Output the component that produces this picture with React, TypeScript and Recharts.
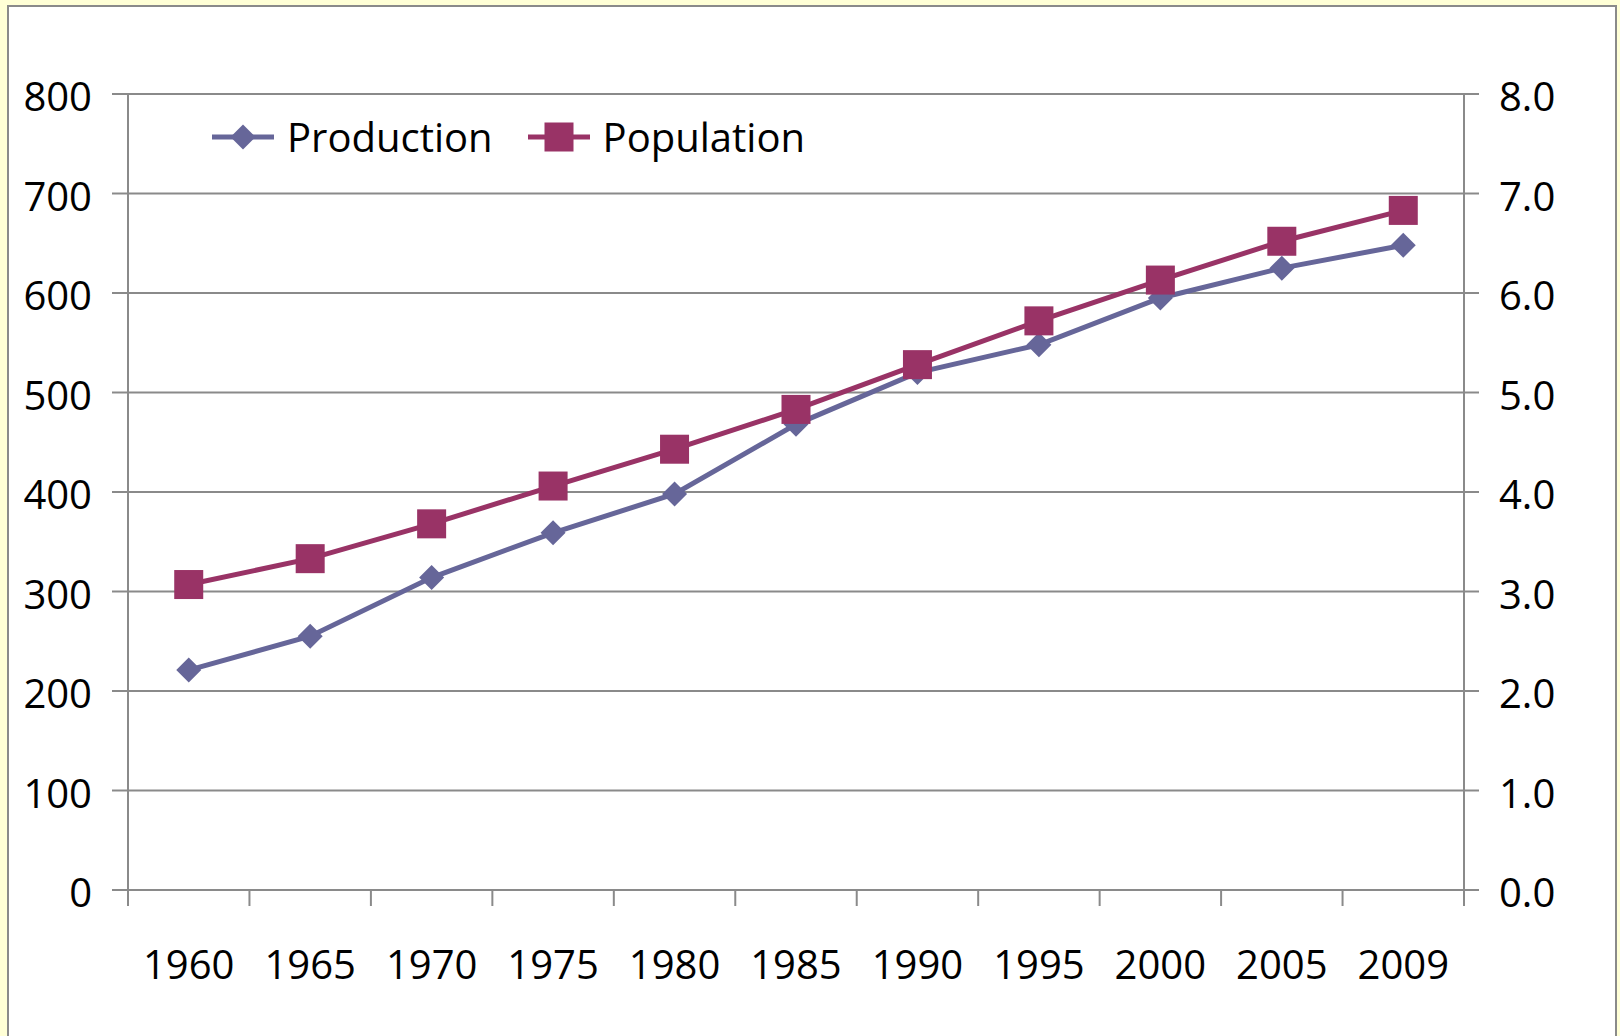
import React from "react";
import {
  LineChart,
  Line,
  XAxis,
  YAxis,
  CartesianGrid,
  Legend,
} from "recharts";

// Production vs population, 1960-2009. Two value axes: production on the
// left (0-800), population in billions on the right (0.0-8.0).

const years = ["1960", "1965", "1970", "1975", "1980", "1985", "1990", "1995", "2000", "2005", "2009"];
const production = [221, 255, 314, 359, 398, 468, 520, 548, 595, 625, 648];
const population = [3.07, 3.33, 3.68, 4.06, 4.43, 4.83, 5.28, 5.72, 6.13, 6.52, 6.83];
const leftTicks = [0, 100, 200, 300, 400, 500, 600, 700, 800];
const rightTicks = [0, 1, 2, 3, 4, 5, 6, 7, 8];

const PROD_COLOR = "#666699";
const POP_COLOR = "#993366";
const AXIS_COLOR = "#8a8a8a";
const FONT = "'Open Sans', sans-serif";

const X_TICK_SIZE = 16;
const X_TICK_MARGIN = 45;

// rows sit in the middle of each category slot, slot edges get tick marks
const data = years.map((year, i) => ({
  pos: i + 0.5,
  year,
  production: production[i],
  population: population[i],
}));
const xTicks = Array.from({ length: years.length * 2 + 1 }, (_, i) => i / 2);

function CategoryTick(props: any) {
  const { x, y, payload } = props;
  const v = payload.value as number;
  if (Number.isInteger(v)) {
    return (
      <line
        x1={x}
        x2={x}
        y1={y - X_TICK_MARGIN - X_TICK_SIZE}
        y2={y - X_TICK_MARGIN}
        stroke={AXIS_COLOR}
        strokeWidth={2}
      />
    );
  }
  return (
    <text
      x={x}
      y={y}
      dy="0.71em"
      textAnchor="middle"
      fill="#000"
      fontSize={40}
      fontFamily={FONT}
    >
      {years[Math.floor(v)]}
    </text>
  );
}

// value labels sit a touch below their gridline, like the original
function ValueTick(props: any) {
  const { x, y, payload, textAnchor, tickFormatter } = props;
  const label = tickFormatter ? tickFormatter(payload.value) : payload.value;
  return (
    <text
      x={x}
      y={y + 3}
      dy="0.355em"
      textAnchor={textAnchor}
      fill="#000"
      fontSize={40}
      fontFamily={FONT}
    >
      {label}
    </text>
  );
}

function Diamond({ cx, cy, size = 12.5, fill }: { cx: number; cy: number; size?: number; fill: string }) {
  return (
    <polygon
      points={`${cx},${cy - size} ${cx + size},${cy} ${cx},${cy + size} ${cx - size},${cy}`}
      fill={fill}
    />
  );
}

function Square({ cx, cy, size = 29, fill }: { cx: number; cy: number; size?: number; fill: string }) {
  return <rect x={cx - size / 2} y={cy - size / 2} width={size} height={size} fill={fill} />;
}

const renderDiamond = (p: any) => (
  <Diamond key={`d-${p.index}`} cx={p.cx} cy={p.cy} fill={PROD_COLOR} />
);
const renderSquare = (p: any) => (
  <Square key={`s-${p.index}`} cx={p.cx} cy={p.cy} fill={POP_COLOR} />
);

function LegendIcon({ kind, color }: { kind: "diamond" | "square"; color: string }) {
  return (
    <svg width={62} height={40} style={{ display: "block" }}>
      <line x1={0} x2={62} y1={20} y2={20} stroke={color} strokeWidth={5} />
      {kind === "diamond" ? (
        <Diamond cx={31} cy={20} fill={color} />
      ) : (
        <Square cx={31} cy={20} fill={color} />
      )}
    </svg>
  );
}

function ChartLegend() {
  const items = [
    { name: "Production", kind: "diamond" as const, color: PROD_COLOR },
    { name: "Population", kind: "square" as const, color: POP_COLOR },
  ];
  return (
    <div style={{ display: "flex", alignItems: "center", fontFamily: FONT }}>
      {items.map((it, i) => (
        <div
          key={it.name}
          style={{ display: "flex", alignItems: "center", marginLeft: i === 0 ? 0 : 35 }}
        >
          <LegendIcon kind={it.kind} color={it.color} />
          <span style={{ marginLeft: 13, fontSize: 40, lineHeight: "40px", color: "#000" }}>
            {it.name}
          </span>
        </div>
      ))}
    </div>
  );
}

export default function App() {
  return (
    <div
      style={{
        position: "absolute",
        left: 0,
        top: 0,
        width: 1620,
        height: 1036,
        background: "#ffffd6",
        overflow: "hidden",
      }}
    >
      <div
        style={{
          position: "absolute",
          left: 7,
          top: 5,
          width: 1610,
          height: 1060,
          boxSizing: "border-box",
          background: "#fff",
          border: `2px solid ${AXIS_COLOR}`,
        }}
      />
      <div style={{ position: "absolute", left: 0, top: 0 }}>
        <LineChart
          width={1620}
          height={1036}
          data={data}
          margin={{ top: 94, right: 56, bottom: 46, left: 28 }}
        >
          <CartesianGrid
            yAxisId="left"
            vertical={false}
            stroke={AXIS_COLOR}
            strokeWidth={2}
          />
          <XAxis
            dataKey="pos"
            type="number"
            domain={[0, years.length]}
            ticks={xTicks}
            interval={0}
            height={100}
            tickSize={X_TICK_SIZE}
            tickMargin={X_TICK_MARGIN}
            tickLine={false}
            axisLine={{ stroke: AXIS_COLOR, strokeWidth: 2 }}
            tick={<CategoryTick />}
          />
          <YAxis
            yAxisId="left"
            domain={[0, 800]}
            ticks={leftTicks}
            interval={0}
            width={100}
            tickSize={16}
            tickMargin={20}
            axisLine={{ stroke: AXIS_COLOR, strokeWidth: 2 }}
            tickLine={{ stroke: AXIS_COLOR, strokeWidth: 2 }}
            tick={<ValueTick />}
          />
          <YAxis
            yAxisId="right"
            orientation="right"
            domain={[0, 8]}
            ticks={rightTicks}
            interval={0}
            width={100}
            tickSize={15}
            tickMargin={20}
            tickFormatter={(v: number) => v.toFixed(1)}
            axisLine={{ stroke: AXIS_COLOR, strokeWidth: 2 }}
            tickLine={{ stroke: AXIS_COLOR, strokeWidth: 2 }}
            tick={<ValueTick />}
          />
          <Legend
            layout="vertical"
            align="center"
            verticalAlign="middle"
            wrapperStyle={{ left: 212, top: 117 }}
            content={() => <ChartLegend />}
          />
          <Line
            yAxisId="left"
            type="linear"
            dataKey="production"
            name="Production"
            stroke={PROD_COLOR}
            strokeWidth={5}
            dot={renderDiamond}
            activeDot={false}
            isAnimationActive={false}
          />
          <Line
            yAxisId="right"
            type="linear"
            dataKey="population"
            name="Population"
            stroke={POP_COLOR}
            strokeWidth={5}
            dot={renderSquare}
            activeDot={false}
            isAnimationActive={false}
          />
        </LineChart>
      </div>
    </div>
  );
}
